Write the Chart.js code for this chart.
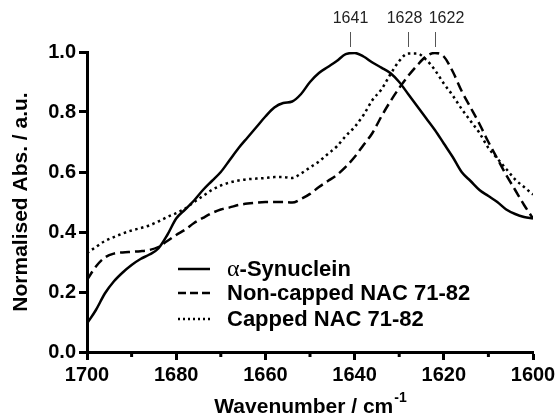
<html>
  <head>
    <script src="https://cdn.jsdelivr.net/npm/chart.js@4.4.1/dist/chart.umd.min.js"></script>
    <style>
      body { margin: 0; background: #fff; }
    </style>
  </head>
  <body>
    <canvas id="myChart" width="556" height="420"></canvas>
    <script>
      // wavenumber (cm-1), every 2 cm-1
      const wavenumbers = [1700,1698,1696,1694,1692,1690,1688,1686,1684,1682,1680,1678,1676,1674,1672,1670,1668,1666,1664,1662,1660,1658,1656,1654,1652,1650,1648,1646,1644,1642,1640,1638,1636,1634,1632,1630,1628,1626,1624,1622,1620,1618,1616,1614,1612,1610,1608,1606,1604,1602,1600];

      const synuclein = [0.095,0.14,0.195,0.235,0.265,0.29,0.31,0.325,0.345,0.39,0.445,0.475,0.505,0.54,0.57,0.60,0.64,0.68,0.715,0.75,0.785,0.815,0.83,0.835,0.86,0.90,0.93,0.95,0.97,0.993,0.997,0.985,0.965,0.948,0.93,0.90,0.86,0.82,0.78,0.74,0.695,0.65,0.60,0.57,0.54,0.52,0.50,0.475,0.46,0.45,0.445];

      const nonCapped = [0.24,0.285,0.315,0.328,0.332,0.334,0.336,0.34,0.35,0.37,0.39,0.408,0.43,0.447,0.463,0.475,0.482,0.49,0.495,0.498,0.50,0.50,0.50,0.498,0.51,0.527,0.55,0.57,0.59,0.617,0.65,0.69,0.73,0.785,0.835,0.88,0.92,0.955,0.985,0.997,0.985,0.935,0.87,0.815,0.76,0.70,0.645,0.59,0.54,0.49,0.445];

      const capped = [0.33,0.35,0.37,0.383,0.395,0.405,0.413,0.422,0.435,0.45,0.463,0.478,0.50,0.52,0.54,0.555,0.565,0.572,0.576,0.578,0.58,0.583,0.583,0.58,0.595,0.615,0.635,0.66,0.685,0.72,0.75,0.79,0.84,0.875,0.925,0.97,0.995,0.995,0.975,0.94,0.895,0.855,0.81,0.77,0.73,0.68,0.645,0.61,0.575,0.55,0.525];

      const seriesNames = ["-Synuclein", "Non-capped NAC 71-82", "Capped NAC 71-82"];
      const peakLabels = [1641, 1628, 1622];
      const xMajorTicks = [1700, 1680, 1660, 1640, 1620, 1600];
      const yTicks = [0, 0.2, 0.4, 0.6, 0.8, 1.0];

      const toPoints = arr => arr.map((v, i) => ({ x: wavenumbers[i], y: v }));
      const SANS = "'Liberation Sans', Arial, sans-serif";

      // peak labels + little marker lines above the curves
      const peakPlugin = {
        id: "peaks",
        afterDraw(chart) {
          const ctx = chart.ctx;
          const x = chart.scales.x;
          const shift = [0, -4, 11];
          ctx.save();
          ctx.strokeStyle = "#555";
          ctx.lineWidth = 1;
          ctx.fillStyle = "#222";
          ctx.font = "16px " + SANS;
          ctx.textAlign = "center";
          ctx.textBaseline = "middle";
          peakLabels.forEach((p, i) => {
            const px = Math.round(x.getPixelForValue(p)) + 0.5;
            ctx.beginPath();
            ctx.moveTo(px, 32);
            ctx.lineTo(px, 47);
            ctx.stroke();
            ctx.fillText(String(p), px + shift[i], 19);
          });
          ctx.restore();
        }
      };

      // minor ticks, x title with superscript, legend inside plot
      const decoPlugin = {
        id: "deco",
        afterDraw(chart) {
          const ctx = chart.ctx;
          const x = chart.scales.x;
          const area = chart.chartArea;
          ctx.save();
          ctx.strokeStyle = "#000";
          ctx.lineWidth = 3;
          for (let v = 1690; v > 1600; v -= 20) {
            const px = x.getPixelForValue(v);
            ctx.beginPath();
            ctx.moveTo(px, area.bottom);
            ctx.lineTo(px, area.bottom + 5);
            ctx.stroke();
          }

          // x title
          ctx.fillStyle = "#000";
          ctx.textBaseline = "alphabetic";
          ctx.textAlign = "left";
          const main = "Wavenumber / cm";
          ctx.font = "bold 21px " + SANS;
          const w1 = ctx.measureText(main).width;
          ctx.font = "bold 14px " + SANS;
          const w2 = ctx.measureText("-1").width;
          const cx = (area.left + area.right) / 2;
          const startX = cx - (w1 + w2) / 2;
          ctx.font = "bold 21px " + SANS;
          ctx.fillText(main, startX, 413);
          ctx.font = "bold 14px " + SANS;
          ctx.fillText("-1", startX + w1 + 1, 402);

          // legend
          const lx = 178, ly = [269, 293, 319];
          chart.data.datasets.forEach((ds, i) => {
            ctx.strokeStyle = "#000";
            ctx.lineWidth = ds.borderWidth;
            ctx.setLineDash(ds.legendDash || []);
            ctx.beginPath();
            ctx.moveTo(lx, ly[i]);
            ctx.lineTo(lx + 32, ly[i]);
            ctx.stroke();
            ctx.setLineDash([]);
            ctx.textBaseline = "middle";
            let tx = lx + 49;
            if (i === 0) {
              ctx.font = "24px 'Liberation Serif', 'Times New Roman', serif";
              ctx.fillText("\u03b1", tx, ly[i] + 1);
              tx += ctx.measureText("\u03b1").width;
            }
            ctx.font = "bold 22px " + SANS;
            ctx.fillText(seriesNames[i], tx, ly[i] + 1);
          });
          ctx.restore();
        }
      };

      const ctx = document.getElementById("myChart").getContext("2d");
      const myChart = new Chart(ctx, {
        type: "line",
        data: {
          datasets: [{
            label: "a-Synuclein",
            data: toPoints(synuclein),
            borderColor: "#000",
            borderWidth: 2.5,
            pointRadius: 0,
            cubicInterpolationMode: "monotone"
          }, {
            label: "Non-capped NAC 71-82",
            data: toPoints(nonCapped),
            borderColor: "#000",
            borderWidth: 2.5,
            borderDash: [10, 5],
            legendDash: [8, 4],
            pointRadius: 0,
            cubicInterpolationMode: "monotone"
          }, {
            label: "Capped NAC 71-82",
            data: toPoints(capped),
            borderColor: "#000",
            borderWidth: 2.5,
            borderDash: [2.5, 3.5],
            legendDash: [2, 3],
            pointRadius: 0,
            cubicInterpolationMode: "monotone"
          }]
        },
        options: {
          responsive: false,
          animation: false,
          devicePixelRatio: 1,
          layout: { padding: { top: 52, right: 23, left: 0, bottom: 0 } },
          plugins: {
            legend: { display: false },
            tooltip: { enabled: false }
          },
          scales: {
            x: {
              type: "linear",
              reverse: true,
              min: 1600,
              max: 1700,
              afterFit: s => { s.height = 68; s.paddingRight = 0; s.paddingLeft = 0; },
              afterBuildTicks: s => { s.ticks = xMajorTicks.map(v => ({ value: v })); },
              grid: { display: true, drawOnChartArea: false, tickLength: 8, tickWidth: 3, tickColor: "#000" },
              border: { display: true, color: "#000", width: 3 },
              ticks: {
                color: "#000",
                padding: 3,
                maxRotation: 0,
                callback: v => String(v),
                font: { family: SANS, size: 20, weight: "bold" }
              }
            },
            y: {
              min: 0,
              max: 1,
              afterFit: s => { s.width = 87; },
              afterBuildTicks: s => { s.ticks = yTicks.map(v => ({ value: v })); },
              grid: { display: true, drawOnChartArea: false, tickLength: 8, tickWidth: 3, tickColor: "#000" },
              border: { display: true, color: "#000", width: 3 },
              title: {
                display: true,
                text: "Normalised Abs. / a.u.",
                color: "#000",
                padding: { top: 9, bottom: 0 },
                font: { family: SANS, size: 21, weight: "bold" }
              },
              ticks: {
                color: "#000",
                padding: 3,
                callback: v => Number(v).toFixed(1),
                font: { family: SANS, size: 20, weight: "bold" }
              }
            }
          }
        },
        plugins: [peakPlugin, decoPlugin]
      });
    </script>
  </body>
</html>
